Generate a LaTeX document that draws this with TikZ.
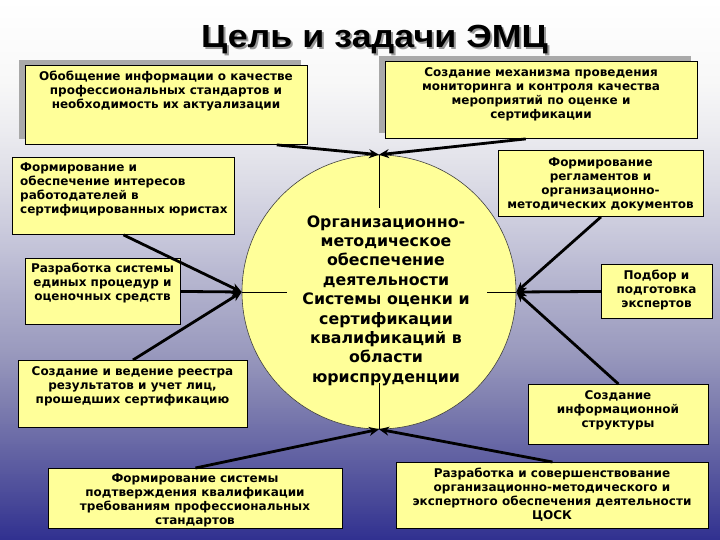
\documentclass[tikz,border=0pt]{standalone}
\usepackage{fontspec}
\setmainfont{DejaVu Sans}
\newfontfamily\titlefont{Liberation Sans}
\usetikzlibrary{arrows.meta,shadows,calc}
\definecolor{boxyel}{HTML}{FFFF99}
\definecolor{shgray}{HTML}{A9A9A9}
\definecolor{gA}{HTML}{FFFFFF}
\definecolor{gB}{HTML}{F8F8F8}
\definecolor{gC}{HTML}{ECECF0}
\definecolor{gD}{HTML}{DCDCE6}
\definecolor{gE}{HTML}{C6C6DA}
\definecolor{gF}{HTML}{ADADCA}
\definecolor{gG}{HTML}{9A9ABE}
\definecolor{gH}{HTML}{8080B0}
\definecolor{gI}{HTML}{6464A4}
\definecolor{gJ}{HTML}{484898}
\definecolor{gK}{HTML}{303090}
\begin{document}
\begin{tikzpicture}[x=1pt,y=-1pt,
  ybox/.style={draw=black, line width=0.9pt, fill=boxyel, inner sep=0pt},
  shbox/.style={ybox, drop shadow={shadow xshift=-6pt, shadow yshift=5pt, fill=shgray, opacity=1}},
  btext/.style={font=\fontsize{12}{14}\selectfont\bfseries, align=center, inner sep=0pt},
  ctext/.style={font=\fontsize{15.8}{19.4}\selectfont\bfseries, align=center, inner sep=0pt},
  ttl/.style={font=\titlefont\bfseries\fontsize{32}{32}\selectfont, inner sep=0pt, anchor=base},
  conn/.style={line width=2.8pt, -{Stealth[length=10pt,width=9pt]}},
  guide/.style={line width=0.6pt, draw=black}
]
\useasboundingbox (0,0) rectangle (720,540);
% background gradient, drawn as thin strips
\foreach \ya/\yb/\ca/\cb in {0/80/gA/gB,80/130/gB/gC,130/180/gC/gD,180/240/gD/gE,240/300/gE/gF,300/350/gF/gG,350/400/gG/gH,400/450/gH/gI,450/500/gI/gJ,500/540/gJ/gK}{
  \pgfmathsetmacro\yn{\ya+2}
  \foreach \y in {\ya,\yn,...,\yb}{
    \pgfmathsetmacro\p{100*(\yb-\y)/(\yb-\ya)}
    \fill[\ca!\p!\cb] (0,\y-0.2) rectangle (720,\y+2.4);
  }
}

% title
\node[ttl, text=gray!80] (titlesh) at (376.5,49.5) {\scalebox{1.12}[1]{Цель и задачи ЭМЦ}};
\node[ttl] (title) at (374.5,47.5) {\scalebox{1.12}[1]{Цель и задачи ЭМЦ}};

% boxes
\node[shbox, anchor=north west, minimum width=282pt, minimum height=79pt] (b1) at (25,65) {};
\node[shbox, anchor=north west, minimum width=312pt, minimum height=77pt] (b2) at (385,61) {};
\node[ybox, anchor=north west, minimum width=222pt, minimum height=77pt] (b3) at (12,157) {};
\node[ybox, anchor=north west, minimum width=205pt, minimum height=66pt] (b4) at (498,150) {};
\node[ybox, anchor=north west, minimum width=155pt, minimum height=66pt] (b5) at (25,258) {};
\node[ybox, anchor=north west, minimum width=111pt, minimum height=54pt] (b6) at (601,264) {};
\node[ybox, anchor=north west, minimum width=229pt, minimum height=67pt] (b7) at (18,360) {};
\node[ybox, anchor=north west, minimum width=180pt, minimum height=60pt] (b8) at (528,384) {};
\node[ybox, anchor=north west, minimum width=294pt, minimum height=60pt] (b9) at (48,468) {};
\node[ybox, anchor=north west, minimum width=312pt, minimum height=66pt] (b10) at (396,462) {};

% texts
\node[btext] (t1) at (166,91) {Обобщение информации о качестве\\профессиональных стандартов и\\необходимость их актуализации};
\node[btext] (t2) at (541,94) {Создание механизма проведения\\мониторинга и контроля качества\\мероприятий по оценке и\\сертификации};
\node[btext, align=left, anchor=west] (t3) at (20,189.5) {Формирование и\\обеспечение интересов\\работодателей в\\сертифицированных юристах};
\node[btext] (t4) at (600.5,184) {Формирование\\регламентов и\\организационно-\\методических документов};
\node[btext] (t5) at (102.5,283) {Разработка системы\\единых процедур и\\оценочных средств};
\node[btext] (t6) at (656.5,290) {Подбор и\\подготовка\\экспертов};
\node[btext] (t7) at (132.5,386) {Создание и ведение реестра\\результатов и учет лиц,\\прошедших сертификацию};
\node[btext] (t8) at (618,410) {Создание\\информационной\\структуры};
\node[btext] (t9) at (195,500.5) {Формирование системы\\подтверждения квалификации\\требованиям профессиональных\\стандартов};
\node[btext] (t10) at (552,495) {Разработка и совершенствование\\организационно-методического и\\экспертного обеспечения деятельности\\ЦОСК};

% central circle
\node[circle, draw=black!75, line width=0.6pt, fill=boxyel, minimum size=274pt, inner sep=0pt] (circ) at (379,292) {};
\node[minimum width=200pt, minimum height=175pt, inner sep=0pt] (cbox) at (387,295.5) {};
\node[ctext] (ct) at (386,300.5) {Организационно-\\методическое\\обеспечение\\деятельности\\Системы оценки и\\сертификации\\квалификаций  в\\области\\юриспруденции};
\draw[guide] (circ.north) -- (circ.north |- cbox.north);
\draw[guide] (circ.south) -- (circ.south |- cbox.south);
\draw[guide] (circ.west) -- (circ.west -| cbox.west);
\draw[guide] (circ.east) -- (circ.east -| cbox.east);

% connectors
\draw[conn] ($(b1.south west)!0.89!(b1.south east)$) -- (circ.north);
\draw[conn] ($(b2.south west)!0.45!(b2.south east)$) -- (circ.north);
\draw[conn] (b3.south) -- (circ.west);
\draw[conn] (b5.east) -- (circ.west);
\draw[conn] (b7.north) -- (circ.west);
\draw[conn] (b4.south) -- (circ.east);
\draw[conn] (b6.west) -- (circ.east);
\draw[conn] (b8.north) -- (circ.east);
\draw[conn] (b9.north) -- (circ.south);
\draw[conn] (b10.north) -- (circ.south);
\end{tikzpicture}
\end{document}
